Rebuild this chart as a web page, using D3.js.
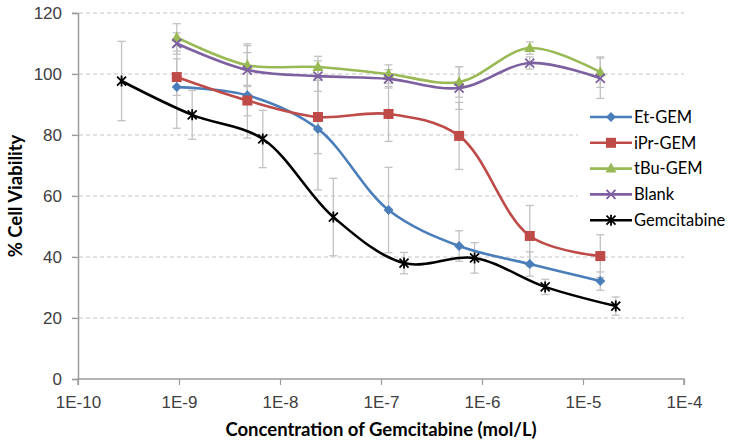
<!DOCTYPE html>
<html>
<head>
<meta charset="utf-8">
<script src="https://cdn.jsdelivr.net/npm/d3@7.9.0/dist/d3.min.js"></script>
<style>
  body { margin: 0; background: #fff; }
  svg { display: block; font-family: Lato, 'Open Sans', sans-serif; }
</style>
</head>
<body>
<div id="chart"></div>
<script>
// concentrations (mol/L)
const concDerivs = [9.5e-10, 4.75e-9, 2.375e-8, 1.1875e-7, 5.9375e-7, 2.97e-6, 1.484e-5];
const concGem = [2.7e-10, 1.35e-9, 6.75e-9, 3.375e-8, 1.69e-7, 8.44e-7, 4.22e-6, 2.11e-5];

// % cell viability
const etGem = [95.7, 93.0, 82.0, 55.4, 43.6, 37.7, 32.1];
const iprGem = [99.0, 91.3, 85.9, 86.9, 79.7, 46.9, 40.3];
const tbuGem = [112.0, 102.9, 102.3, 100.0, 97.4, 108.5, 100.6];
const blank = [110.0, 101.3, 99.3, 98.4, 95.4, 103.6, 98.6];
const gemcitabine = [97.7, 86.6, 78.7, 53.1, 38.0, 39.7, 30.2, 23.9];

// error bars (+/-)
const etGemErr = [13.5, 14, 20, 14, 5, 4, 3];
const iprGemErr = [6, 5, 12, 9, 11, 10, 7];
const tbuGemErr = [4.5, 7, 3.5, 3, 5, 2, 5];
const blankErr = [3.5, 8, 5, 3, 7, 2, 6.6];
const gemErr = [13, 8, 9.4, 12.7, 3.5, 5, 2.5, 3];

const xTicks = [1e-10, 1e-9, 1e-8, 1e-7, 1e-6, 1e-5, 1e-4];
const yTicks = [0, 20, 40, 60, 80, 100, 120];

const series = [
  { name: 'Et-GEM', x: concDerivs, y: etGem, err: etGemErr, color: '#4a7ebb', marker: 'diamond' },
  { name: 'iPr-GEM', x: concDerivs, y: iprGem, err: iprGemErr, color: '#be4b48', marker: 'square' },
  { name: 'tBu-GEM', x: concDerivs, y: tbuGem, err: tbuGemErr, color: '#98b954', marker: 'triangle' },
  { name: 'Blank', x: concDerivs, y: blank, err: blankErr, color: '#7d60a0', marker: 'cross' },
  { name: 'Gemcitabine', x: concGem, y: gemcitabine, err: gemErr, color: '#000000', marker: 'star' },
];

const width = 737, height = 446;
const area = { left: 78, right: 684, top: 13, bottom: 379 };

const svg = d3.select('#chart').append('svg')
  .attr('width', width).attr('height', height);

const x = d3.scaleLog().domain([1e-10, 1e-4]).range([area.left, area.right]);
const y = d3.scaleLinear().domain([0, 120]).range([area.bottom, area.top]);

// gridlines
svg.append('g')
  .selectAll('line')
  .data(yTicks.filter(d => d > 0))
  .join('line')
  .attr('x1', area.left - 6).attr('x2', area.right)
  .attr('y1', d => y(d)).attr('y2', d => y(d))
  .attr('stroke', '#c4c4c4').attr('stroke-width', 1)
  .attr('stroke-dasharray', '4,3');

// y axis
const yAxis = svg.append('g')
  .attr('transform', `translate(${area.left},0)`)
  .call(d3.axisLeft(y).tickValues(yTicks).tickSize(6).tickPadding(10).tickFormat(d3.format('d')));
yAxis.select('.domain').attr('stroke', '#9c9c9c').attr('stroke-width', 1.5);
yAxis.selectAll('.tick line').attr('stroke', '#9c9c9c').attr('stroke-width', 1.2);
yAxis.selectAll('.tick text').attr('fill', '#404040').style('font-size', '17px');

// x axis
const xAxis = svg.append('g')
  .attr('transform', `translate(0,${area.bottom})`)
  .call(d3.axisBottom(x).tickValues(xTicks).tickSize(6).tickPadding(11)
    .tickFormat(d => '1E' + Math.round(Math.log10(d))));
xAxis.select('.domain').attr('stroke', '#9c9c9c').attr('stroke-width', 1.5).attr('d', `M${area.left},6V0H${area.right}V6`);
xAxis.selectAll('.tick line').attr('stroke', '#9c9c9c').attr('stroke-width', 1.2);
xAxis.selectAll('.tick text').attr('fill', '#404040').style('font-size', '17px');

// axis titles
svg.append('text')
  .attr('x', 381).attr('y', 436)
  .attr('text-anchor', 'middle')
  .style('font-size', '18.5px').style('font-weight', 'bold').attr('fill', '#000')
  .text('Concentration of Gemcitabine (mol/L)');

svg.append('text')
  .attr('transform', `translate(22,${(area.top + area.bottom) / 2}) rotate(-90)`)
  .attr('text-anchor', 'middle')
  .style('font-size', '18.5px').style('font-weight', 'bold').attr('fill', '#000')
  .text('% Cell Viability');

// error bars
const errG = svg.append('g');
series.forEach(s => {
  const pts = s.y.map((v, i) => ({ cx: x(s.x[i]), lo: y(v - s.err[i]), hi: y(v + s.err[i]) }));
  const g = errG.append('g').attr('stroke', '#c2c2c2').attr('stroke-width', 1.3);
  g.selectAll('.v').data(pts).join('line')
    .attr('x1', d => d.cx).attr('x2', d => d.cx).attr('y1', d => d.lo).attr('y2', d => d.hi);
  g.selectAll('.t').data(pts).join('line')
    .attr('x1', d => d.cx - 4).attr('x2', d => d.cx + 4).attr('y1', d => d.hi).attr('y2', d => d.hi);
  g.selectAll('.b').data(pts).join('line')
    .attr('x1', d => d.cx - 4).attr('x2', d => d.cx + 4).attr('y1', d => d.lo).attr('y2', d => d.lo);
});

function drawMarker(g, type, color) {
  if (type === 'diamond') {
    g.append('path').attr('d', 'M0,-5L5,0L0,5L-5,0Z').attr('fill', color);
  } else if (type === 'square') {
    g.append('rect').attr('x', -5).attr('y', -5).attr('width', 10).attr('height', 10).attr('fill', color);
  } else if (type === 'triangle') {
    g.append('path').attr('d', 'M0,-6L5.5,4L-5.5,4Z').attr('fill', color);
  } else if (type === 'cross') {
    g.append('path').attr('d', 'M-4.5,-4.5L4.5,4.5M-4.5,4.5L4.5,-4.5')
      .attr('stroke', color).attr('stroke-width', 1.8).attr('fill', 'none');
  } else if (type === 'star') {
    g.append('path').attr('d', 'M-4.5,-4.5L4.5,4.5M-4.5,4.5L4.5,-4.5M0,-5.5L0,5.5')
      .attr('stroke', color).attr('stroke-width', 1.8).attr('fill', 'none');
  }
}

// lines and markers
const line = d3.line().curve(d3.curveCatmullRom.alpha(0.5));
series.forEach(s => {
  const pts = s.y.map((v, i) => [x(s.x[i]), y(v)]);
  svg.append('path')
    .attr('d', line(pts))
    .attr('fill', 'none').attr('stroke', s.color).attr('stroke-width', 2.6)
    .attr('stroke-linejoin', 'round');
  pts.forEach(p => {
    drawMarker(svg.append('g').attr('transform', `translate(${p[0]},${p[1]})`), s.marker, s.color);
  });
});

// legend
const legend = svg.append('g');
legend.append('rect').attr('x', 578).attr('y', 103).attr('width', 159).attr('height', 130).attr('fill', '#fff');
series.forEach((s, i) => {
  const ly = 117 + i * 25.8;
  const g = legend.append('g').attr('transform', `translate(0,${ly})`);
  g.append('line').attr('x1', 590).attr('x2', 632).attr('y1', 0).attr('y2', 0)
    .attr('stroke', s.color).attr('stroke-width', 2.6);
  drawMarker(g.append('g').attr('transform', 'translate(611,0)'), s.marker, s.color);
  g.append('text').attr('x', 634).attr('y', 0).attr('dy', '0.35em')
    .style('font-size', '16.5px').attr('fill', '#000').text(s.name);
});
</script>
</body>
</html>
